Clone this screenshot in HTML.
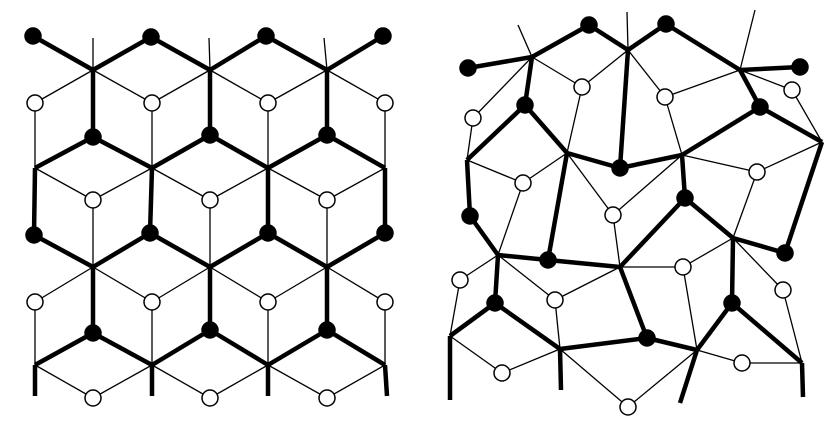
<!DOCTYPE html>
<html><head><meta charset="utf-8"><style>html,body{margin:0;padding:0;background:#fff;width:833px;height:432px;overflow:hidden}svg{display:block}</style></head>
<body>
<svg id="diagram" width="833" height="432" viewBox="0 0 833 432" xmlns="http://www.w3.org/2000/svg"></svg>
<script>
// Left panel (ordered lattice)
const leftBlack=[[33,36],[151,37],[266,36],[383,36],[93,137],[210,135],[327,135],[34,235],[150,233],[268,233],[385,233],[93,333],[210,330],[327,330]];
const leftWhite=[[35,103],[152,103],[268,103],[385,103],[93,200],[210,200],[327,200],[35,302],[152,302],[268,302],[385,302],[93,398],[210,398],[327,398]];
const leftJunc=[[93,70],[210,70],[327,70],[35,168],[152,168],[268,168],[385,168],[93,267],[210,267],[327,267],[35,365],[152,365],[268,365],[385,365]];
const leftTopStubs=[[93,70,93,38],[210,70,209,38],[327,70,324,38]];
const leftBottomStubs=[[35,365,35,396],[152,365,152,396],[268,365,268,396],[385,365,387,396]];
// Right panel (disordered network)
const rightBlack=[[468,68],[589,25],[666,24],[800,67],[525,105],[760,107],[620,168],[685,198],[470,216],[548,260],[785,253],[495,303],[732,303],[647,338]];
const rightJunc=[[532,57],[628,50],[740,70],[822,142],[467,160],[567,153],[682,155],[498,255],[620,267],[733,238],[450,336],[560,349],[697,350],[802,363]];
const rightWhite=[[582,87],[665,97],[792,90],[473,118],[523,183],[757,172],[613,215],[460,280],[683,267],[783,290],[555,300],[502,373],[742,363],[628,407]];
const rightThick=[[0,0],[1,0],[1,1],[2,1],[2,2],[3,2],[4,0],[6,1],[5,2],[5,3],[4,4],[4,5],[6,5],[6,6],[5,6],[7,6],[8,4],[8,7],[9,7],[9,5],[9,8],[7,8],[7,9],[10,9],[10,3],[11,7],[11,10],[11,11],[13,8],[13,11],[13,12],[12,9],[12,12],[12,13]];
const rightThin=[[0,0],[0,1],[0,5],[1,1],[1,2],[1,6],[2,2],[2,3],[3,0],[3,4],[4,4],[4,5],[4,7],[5,6],[5,3],[5,9],[6,5],[6,6],[6,8],[7,7],[7,10],[8,8],[8,9],[8,12],[9,9],[9,13],[10,7],[10,8],[10,11],[11,10],[11,11],[12,12],[12,13],[13,11],[13,12]];
const rightTopStubs=[[532,57,518,25],[628,50,627,12],[740,70,755,10]];
const rightBottomStubs=[[450,336,450,400],[560,349,561,390],[697,350,680,403],[802,363,803,397]];

const svg=document.getElementById('diagram');
const NS='http://www.w3.org/2000/svg';
function line(x1,y1,x2,y2,w,name){
  const l=document.createElementNS(NS,'line');
  l.setAttribute('x1',x1);l.setAttribute('y1',y1);l.setAttribute('x2',x2);l.setAttribute('y2',y2);
  l.setAttribute('stroke','#000');l.setAttribute('stroke-width',w);l.setAttribute('stroke-linecap','butt');
  
  
  svg.appendChild(l);
}
function circ(x,y,filled,name){
  const c=document.createElementNS(NS,'circle');
  c.setAttribute('cx',x);c.setAttribute('cy',y);c.setAttribute('r',8);
  c.setAttribute('fill',filled?'#000':'#fff');c.setAttribute('stroke','#000');c.setAttribute('stroke-width',1.5);
  
  
  svg.appendChild(c);
}
leftJunc.forEach(j=>{
  leftWhite.forEach(n=>{if(Math.hypot(n[0]-j[0],n[1]-j[1])<80)line(j[0],j[1],n[0],n[1],1.3,'thin-bond');});
});
leftTopStubs.forEach(s=>line(s[0],s[1],s[2],s[3],1.3,'thin-stub'));
leftJunc.forEach(j=>{
  leftBlack.forEach(n=>{if(Math.hypot(n[0]-j[0],n[1]-j[1])<80)line(j[0],j[1],n[0],n[1],4.5,'thick-bond');});
});
leftBottomStubs.forEach(s=>line(s[0],s[1],s[2],s[3],4.5,'thick-stub'));
rightThin.forEach(e=>{const w=rightWhite[e[0]],j=rightJunc[e[1]];line(w[0],w[1],j[0],j[1],1.3,'thin-bond');});
rightTopStubs.forEach(s=>line(s[0],s[1],s[2],s[3],1.3,'thin-stub'));
rightThick.forEach(e=>{const b=rightBlack[e[0]],j=rightJunc[e[1]];line(b[0],b[1],j[0],j[1],4.5,'thick-bond');});
rightBottomStubs.forEach(s=>line(s[0],s[1],s[2],s[3],4.5,'thick-stub'));
leftWhite.forEach(n=>circ(n[0],n[1],false,'open-node'));
leftBlack.forEach(n=>circ(n[0],n[1],true,'filled-node'));
rightWhite.forEach(n=>circ(n[0],n[1],false,'open-node'));
rightBlack.forEach(n=>circ(n[0],n[1],true,'filled-node'));
</script>
</body></html>
